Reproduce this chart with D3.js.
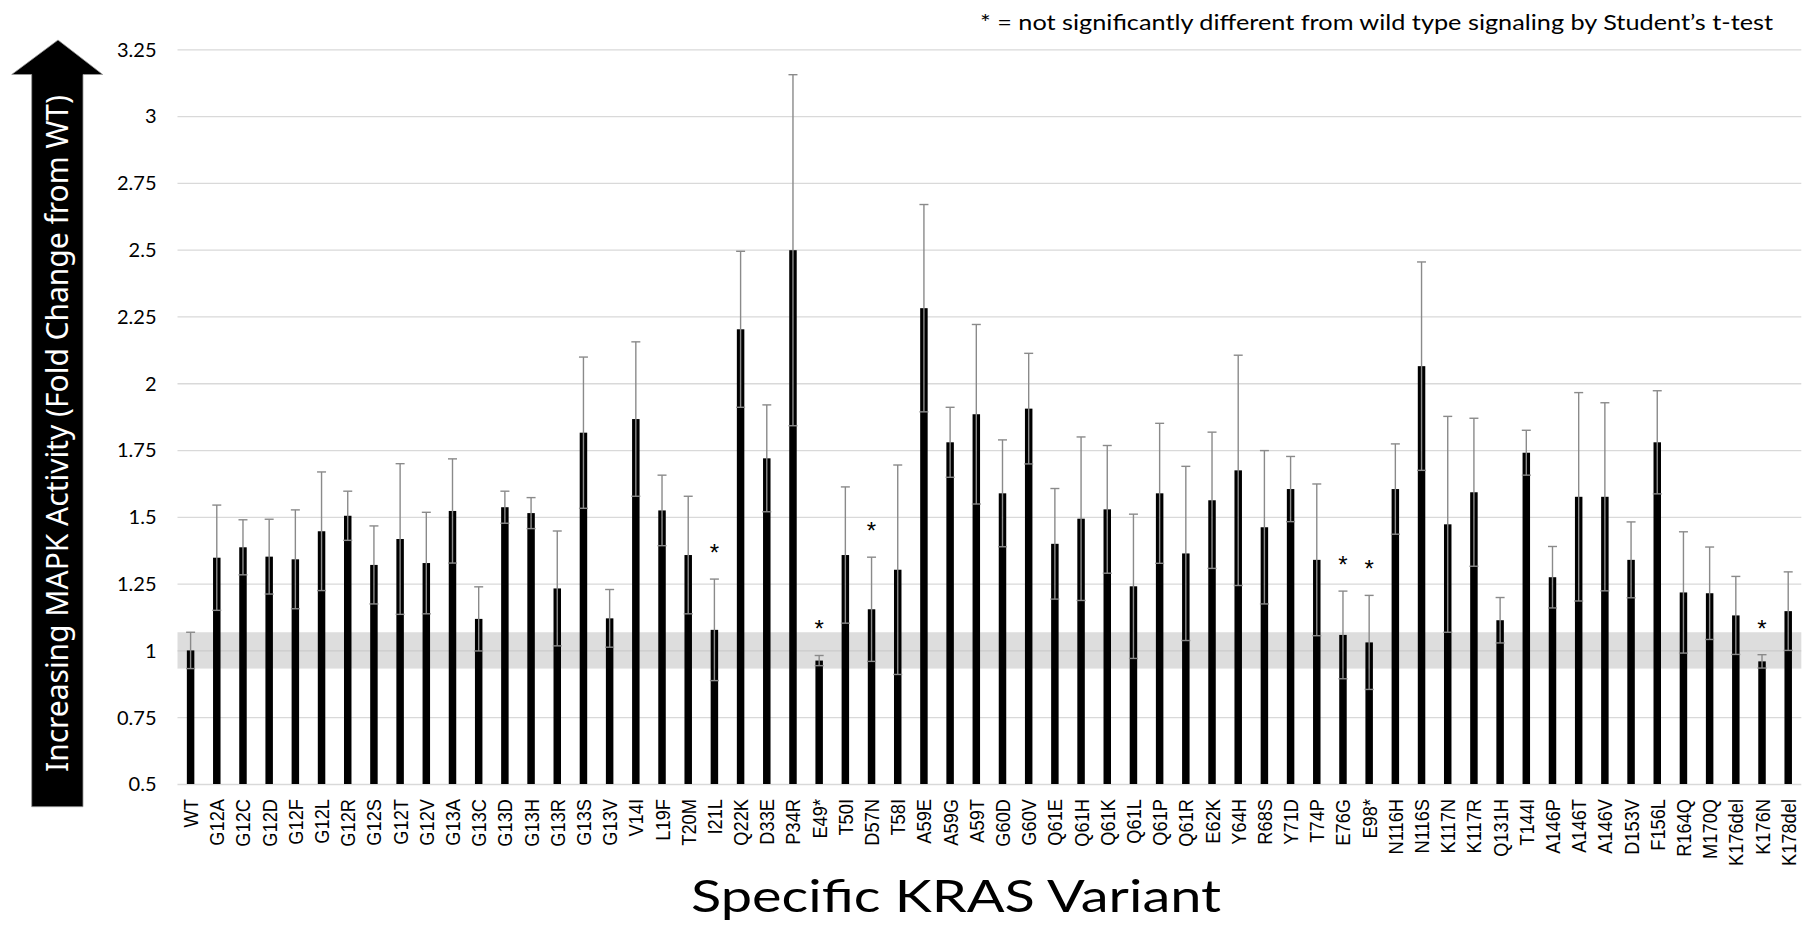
<!DOCTYPE html>
<html>
<head>
<meta charset="utf-8">
<script src="https://cdn.jsdelivr.net/npm/d3@7"></script>
<style>
  html, body { margin: 0; padding: 0; background: #fff; }
  svg { display: block; }
</style>
</head>
<body>
<svg id="chart" width="1812" height="931"></svg>
<script>
// KRAS variants and their MAPK pathway activity (fold change relative to wild type)
const categories = [
  "WT", "G12A", "G12C", "G12D", "G12F", "G12L", "G12R", "G12S", "G12T", "G12V",
  "G13A", "G13C", "G13D", "G13H", "G13R", "G13S", "G13V", "V14I", "L19F", "T20M",
  "I21L", "Q22K", "D33E", "P34R", "E49*", "T50I", "D57N", "T58I", "A59E", "A59G",
  "A59T", "G60D", "G60V", "Q61E", "Q61H", "Q61K", "Q61L", "Q61P", "Q61R", "E62K",
  "Y64H", "R68S", "Y71D", "T74P", "E76G", "E98*", "N116H", "N116S", "K117N", "K117R",
  "Q131H", "T144I", "A146P", "A146T", "A146V", "D153V", "F156L", "R164Q", "M170Q", "K176del",
  "K176N", "K178del"
];

const foldChange = [
  1.000, 1.347, 1.386, 1.351, 1.341, 1.446, 1.504, 1.320, 1.417, 1.327,
  1.522, 1.118, 1.536, 1.514, 1.232, 1.815, 1.120, 1.866, 1.524, 1.357,
  1.077, 2.202, 1.719, 2.498, 0.962, 1.357, 1.154, 1.302, 2.281, 1.779,
  1.884, 1.588, 1.905, 1.399, 1.493, 1.528, 1.240, 1.588, 1.363, 1.562,
  1.674, 1.461, 1.604, 1.339, 1.058, 1.030, 1.604, 2.064, 1.472, 1.592,
  1.113, 1.740, 1.274, 1.575, 1.575, 1.339, 1.779, 1.217, 1.214, 1.131,
  0.959, 1.147
];

const errorSize = [
  0.068, 0.197, 0.103, 0.140, 0.185, 0.222, 0.092, 0.146, 0.282, 0.190,
  0.195, 0.120, 0.060, 0.058, 0.215, 0.283, 0.108, 0.289, 0.132, 0.220,
  0.190, 0.292, 0.200, 0.657, 0.019, 0.255, 0.195, 0.392, 0.388, 0.131,
  0.336, 0.200, 0.207, 0.207, 0.306, 0.239, 0.270, 0.262, 0.326, 0.255,
  0.431, 0.287, 0.122, 0.284, 0.164, 0.176, 0.169, 0.390, 0.404, 0.277,
  0.085, 0.084, 0.115, 0.390, 0.352, 0.142, 0.193, 0.227, 0.173, 0.146,
  0.025, 0.147
];

// variants not significantly different from wild type (marked with an asterisk)
const notSignificant = ["I21L", "E49*", "D57N", "E76G", "E98*", "K176N"];

const yTickValues = [0.5, 0.75, 1, 1.25, 1.5, 1.75, 2, 2.25, 2.5, 2.75, 3, 3.25];
const yTickLabels = ["0.5", "0.75", "1", "1.25", "1.5", "1.75", "2", "2.25", "2.5", "2.75", "3", "3.25"];

const yTitle = "Increasing MAPK Activity (Fold Change from WT)";
const xTitle = "Specific KRAS Variant";
const note = "* = not significantly different from wild type signaling by Student\u2019s t-test";

const data = categories.map((c, i) => ({ name: c, value: foldChange[i], err: errorSize[i] }));

const svg = d3.select("#chart");
const plot = { left: 177.5, right: 1801.3, top: 49.3, bottom: 784 };

const x = d3.scaleBand()
  .domain(categories)
  .range([plot.left, plot.right])
  .paddingInner(0.714)
  .paddingOuter(0.357);

const y = d3.scaleLinear()
  .domain([0.5, 3.25])
  .range([plot.bottom, plot.top]);

// horizontal gridlines
svg.append("g")
  .attr("transform", `translate(${plot.left},0)`)
  .call(d3.axisLeft(y).tickValues(yTickValues).tickSize(-(plot.right - plot.left)).tickFormat(""))
  .call(g => g.select(".domain").remove())
  .call(g => g.selectAll(".tick line").attr("stroke", "#d9d9d9").attr("stroke-width", 1.3));

// y tick labels
svg.append("g")
  .attr("transform", `translate(${plot.left - 21},0)`)
  .call(d3.axisLeft(y).tickValues(yTickValues).tickSize(0).tickPadding(0)
    .tickFormat((d, i) => yTickLabels[i]))
  .call(g => g.select(".domain").remove())
  .call(g => g.selectAll("text")
    .attr("font-family", "Lato, 'Open Sans', sans-serif")
    .attr("font-size", 20)
    .attr("fill", "#000")
    .attr("dy", "0.34em"));

// shaded wild-type range (WT mean +/- its error)
const wt = data[0];
svg.append("rect")
  .attr("x", plot.left)
  .attr("width", plot.right - plot.left)
  .attr("y", y(wt.value + wt.err))
  .attr("height", y(wt.value - wt.err) - y(wt.value + wt.err))
  .attr("fill", "#bcbcbc")
  .attr("fill-opacity", 0.5);

// bars
svg.append("g")
  .selectAll("rect")
  .data(data)
  .join("rect")
  .attr("x", d => x(d.name))
  .attr("width", x.bandwidth())
  .attr("y", d => y(d.value))
  .attr("height", d => y(0.5) - y(d.value))
  .attr("fill", "#000");

// error bars
const capW = 9;
const eb = svg.append("g")
  .attr("stroke", "#8a8a8a")
  .attr("stroke-width", 1.4)
  .attr("fill", "none");
const ebG = eb.selectAll("g").data(data).join("g")
  .attr("transform", d => `translate(${x(d.name) + x.bandwidth() / 2},0)`);
ebG.append("line")
  .attr("y1", d => y(d.value + d.err))
  .attr("y2", d => y(d.value - d.err));
ebG.append("line")
  .attr("x1", -capW / 2).attr("x2", capW / 2)
  .attr("y1", d => y(d.value + d.err)).attr("y2", d => y(d.value + d.err));
ebG.append("line")
  .attr("x1", -capW / 2).attr("x2", capW / 2)
  .attr("y1", d => y(d.value - d.err)).attr("y2", d => y(d.value - d.err));

// significance markers
svg.append("g")
  .selectAll("text")
  .data(data.filter(d => notSignificant.includes(d.name)))
  .join("text")
  .attr("x", d => x(d.name) + x.bandwidth() / 2)
  .attr("y", d => y(d.value + d.err) - 30 + 12)
  .attr("text-anchor", "middle")
  .attr("font-family", "'Liberation Sans', Arial, sans-serif")
  .attr("font-size", 24)
  .attr("fill", "#000")
  .text("*");

// category labels, rotated
svg.append("g")
  .selectAll("text")
  .data(categories)
  .join("text")
  .attr("transform", d => `translate(${x(d) + x.bandwidth() / 2 + 7.5},799) rotate(-90) scale(0.87,1)`)
  .attr("text-anchor", "end")
  .attr("font-family", "'Liberation Sans', Arial, sans-serif")
  .attr("font-size", 21)
  .attr("fill", "#000")
  .text(d => d);

// x-axis title
svg.append("text")
  .attr("x", 956)
  .attr("y", 912)
  .attr("text-anchor", "middle")
  .attr("font-family", "Lato, 'Open Sans', sans-serif")
  .attr("font-size", 44)
  .attr("textLength", 530)
  .attr("lengthAdjust", "spacingAndGlyphs")
  .attr("fill", "#000")
  .text(xTitle);

// footnote
svg.append("text")
  .attr("x", 1773)
  .attr("y", 30)
  .attr("text-anchor", "end")
  .attr("font-family", "Lato, 'Open Sans', sans-serif")
  .attr("font-size", 22)
  .attr("textLength", 793)
  .attr("lengthAdjust", "spacingAndGlyphs")
  .attr("fill", "#000")
  .text(note);

// upward arrow carrying the y-axis title
const arrow = [
  [58, 40], [102.7, 74.5], [83, 74.5], [83, 806.7],
  [31.7, 806.7], [31.7, 74.5], [11.7, 74.5]
];
svg.append("path")
  .attr("d", d3.line()(arrow) + "Z")
  .attr("fill", "#000")
  .attr("stroke", "#9a9a9a")
  .attr("stroke-width", 0.8);

svg.append("text")
  .attr("transform", "translate(68,433.5) rotate(-90)")
  .attr("text-anchor", "middle")
  .attr("font-family", "'Noto Sans', 'Open Sans', sans-serif")
  .attr("font-size", 30)
  .attr("textLength", 677)
  .attr("lengthAdjust", "spacingAndGlyphs")
  .attr("fill", "#fff")
  .text(yTitle);
</script>
</body>
</html>
